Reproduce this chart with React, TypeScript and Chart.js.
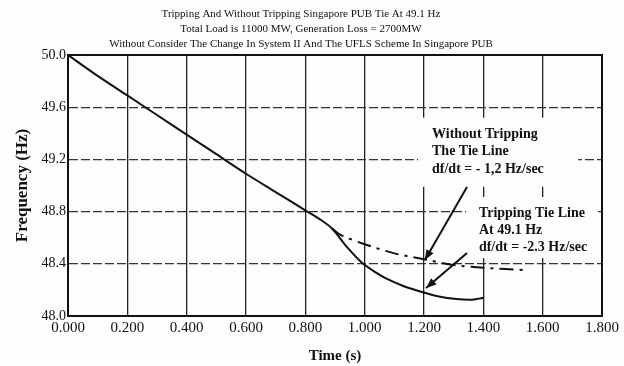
import React, { useEffect, useRef } from "react";
import { Chart, registerables } from "chart.js";

Chart.register(...registerables);

const titleLines = [
  "Tripping And Without Tripping Singapore PUB Tie At 49.1 Hz",
  "Total Load is 11000 MW, Generation Loss = 2700MW",
  "Without Consider The Change In System II And The UFLS Scheme In Singapore PUB",
];

// Tripping tie line at 49.1 Hz (solid)
const tripTime = [0, 0.1, 0.2, 0.3, 0.4, 0.5, 0.6, 0.7, 0.8, 0.85, 0.89, 0.94, 0.99, 1.04, 1.07, 1.13, 1.19, 1.25, 1.31, 1.36, 1.39, 1.4];
const tripFreq = [50.0, 49.84, 49.69, 49.54, 49.39, 49.24, 49.09, 48.95, 48.81, 48.74, 48.67, 48.53, 48.41, 48.33, 48.29, 48.23, 48.186, 48.15, 48.13, 48.125, 48.135, 48.14];

// Without tripping the tie line (dash-dot)
const noTripTime = [0.89, 0.92, 1.0, 1.1, 1.2, 1.3, 1.4, 1.55];
const noTripFreq = [48.67, 48.62, 48.55, 48.48, 48.435, 48.39, 48.37, 48.35];

const xTicks = [0, 0.2, 0.4, 0.6, 0.8, 1.0, 1.2, 1.4, 1.6, 1.8];
const yTicks = [48.0, 48.4, 48.8, 49.2, 49.6, 50.0];

const note1Lines = ["Without Tripping", "The Tie Line", "df/dt = - 1,2 Hz/sec"];
const note2Lines = ["Tripping Tie Line", "At 49.1 Hz", "df/dt = -2.3 Hz/sec"];

const SERIF = "'Liberation Serif', 'Times New Roman', serif";

const annotationPlugin = {
  id: "notes",
  afterDraw(chart: any) {
    const ctx = chart.ctx;
    const xs = chart.scales.x;
    const ys = chart.scales.y;
    const px = (v: number) => xs.getPixelForValue(v);
    const py = (v: number) => ys.getPixelForValue(v);
    const area = chart.chartArea;

    ctx.save();
    // white boxes behind notes
    ctx.fillStyle = "#fdfdfd";
    ctx.fillRect(px(1.18), py(49.52), px(1.72) - px(1.18), py(48.99) - py(49.52));
    ctx.fillRect(px(1.342), py(48.912), px(1.787) - px(1.342), py(48.444) - py(48.912));

    ctx.fillStyle = "#111";
    ctx.font = `bold 14px ${SERIF}`;
    ctx.textBaseline = "middle";
    ctx.textAlign = "left";
    const n1y = [49.395, 49.26, 49.126];
    note1Lines.forEach((t, i) => ctx.fillText(t, px(1.227), py(n1y[i])));
    const n2y = [48.789, 48.659, 48.529];
    note2Lines.forEach((t, i) => ctx.fillText(t, px(1.385), py(n2y[i])));

    // arrows
    const arrow = (x1: number, y1: number, x2: number, y2: number) => {
      const a = px(x1), b = py(y1), c = px(x2), d = py(y2);
      ctx.strokeStyle = "#111";
      ctx.lineWidth = 2;
      ctx.beginPath();
      ctx.moveTo(a, b);
      ctx.lineTo(c, d);
      ctx.stroke();
      const ang = Math.atan2(d - b, c - a);
      const L = 11, W = 0.38;
      ctx.beginPath();
      ctx.moveTo(c, d);
      ctx.lineTo(c - L * Math.cos(ang - W), d - L * Math.sin(ang - W));
      ctx.lineTo(c - L * Math.cos(ang + W), d - L * Math.sin(ang + W));
      ctx.closePath();
      ctx.fillStyle = "#111";
      ctx.fill();
    };
    arrow(1.345, 48.989, 1.203, 48.429);
    arrow(1.345, 48.483, 1.207, 48.215);

    // frame
    ctx.strokeStyle = "#111";
    ctx.lineWidth = 2;
    ctx.strokeRect(area.left, area.top, area.right - area.left, area.bottom - area.top);
    ctx.restore();
  },
};

const bgPlugin = {
  id: "bg",
  beforeDraw(chart: any) {
    const ctx = chart.ctx;
    ctx.save();
    ctx.fillStyle = "#fdfdfd";
    ctx.fillRect(0, 0, chart.width, chart.height);
    ctx.restore();
  },
};

export default function App() {
  const ref = useRef<HTMLCanvasElement>(null);

  useEffect(() => {
    if (!ref.current) return;
    const chart = new Chart(ref.current, {
      type: "line",
      data: {
        datasets: [
          {
            label: "Tripping Tie Line",
            data: tripTime.map((t, i) => ({ x: t, y: tripFreq[i] })),
            borderColor: "#111",
            borderWidth: 2,
            pointRadius: 0,
            tension: 0.3,
            fill: false,
          },
          {
            label: "Without Tripping",
            data: noTripTime.map((t, i) => ({ x: t, y: noTripFreq[i] })),
            borderColor: "#111",
            borderWidth: 2,
            borderDash: [14, 6, 3, 6],
            pointRadius: 0,
            tension: 0.3,
            fill: false,
          },
        ],
      },
      options: {
        responsive: false,
        animation: false,
        layout: { padding: { left: 0, right: 22, top: 0, bottom: 0 } },
        plugins: {
          legend: { display: false },
          tooltip: { enabled: false },
          title: {
            display: true,
            text: titleLines,
            color: "#111",
            font: { family: SERIF, size: 11, weight: "normal", lineHeight: 15 / 11 },
            padding: { top: 7, bottom: 3 },
          },
        },
        scales: {
          x: {
            type: "linear",
            min: 0,
            max: 1.8,
            afterBuildTicks: (s: any) => {
              s.ticks = xTicks.map((v) => ({ value: v }));
            },
            afterFit: (s: any) => {
              s.height = 50;
            },
            ticks: {
              color: "#111",
              font: { family: SERIF, size: 15 },
              padding: 3,
              maxRotation: 0,
              autoSkip: false,
              callback: (v: any) => Number(v).toFixed(3),
            },
            grid: { color: "#222", lineWidth: 1.3, drawTicks: false },
            border: { color: "#111", width: 2 },
            title: {
              display: true,
              text: "Time (s)",
              color: "#111",
              font: { family: SERIF, size: 15, weight: "bold" },
              padding: { top: 0, bottom: 1 },
            },
          },
          y: {
            type: "linear",
            min: 48,
            max: 50,
            afterBuildTicks: (s: any) => {
              s.ticks = yTicks.map((v) => ({ value: v }));
            },
            afterFit: (s: any) => {
              s.width = 68;
            },
            ticks: {
              color: "#111",
              font: { family: SERIF, size: 14 },
              padding: 2,
              autoSkip: false,
              callback: (v: any) => Number(v).toFixed(1),
            },
            grid: { color: "#333", lineWidth: 1.2, drawTicks: false },
            border: { color: "#111", width: 2, dash: [9, 3] },
            title: {
              display: true,
              text: "Frequency (Hz)",
              color: "#111",
              font: { family: SERIF, size: 17, weight: "bold" },
              padding: { top: 12, bottom: 0 },
            },
          },
        },
      },
      plugins: [bgPlugin, annotationPlugin],
    } as any);
    return () => chart.destroy();
  }, []);

  return (
    <canvas
      ref={ref}
      width={624}
      height={366}
      style={{ position: "fixed", left: 0, top: 0, width: 624, height: 366 }}
    />
  );
}
